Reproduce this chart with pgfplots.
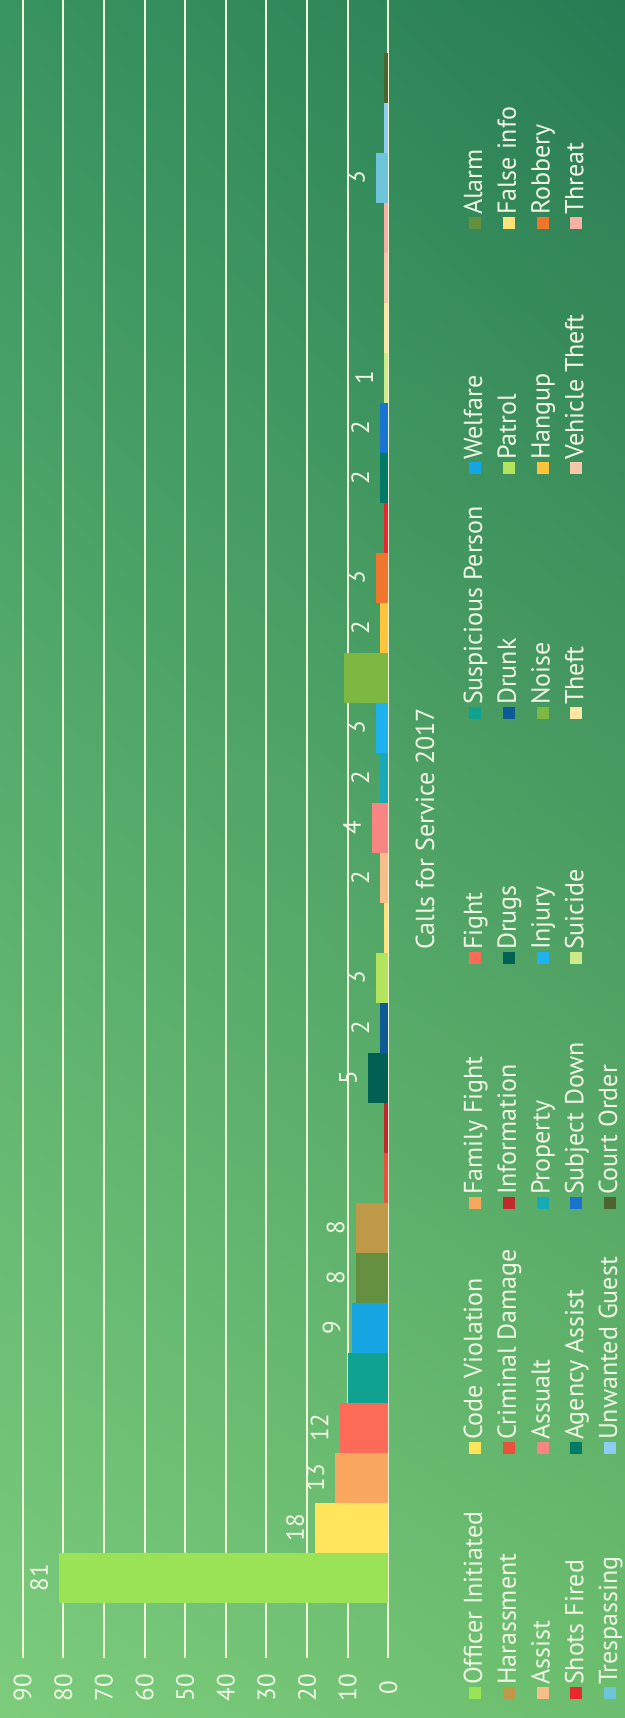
\documentclass[border=0pt]{standalone}
\usepackage{graphicx}
\usepackage{pgfplots}
\pgfplotsset{compat=1.18}
\usetikzlibrary{shadings}
\usepackage{fontspec}
\setmainfont{PT Sans}

\definecolor{bgUL}{RGB}{124,204,124}
\definecolor{bgLL}{RGB}{108,190,110}
\definecolor{bgUR}{RGB}{56,148,96}
\definecolor{bgLR}{RGB}{40,124,84}
\definecolor{gridc}{RGB}{242,246,218}
\definecolor{txtc}{RGB}{240,247,228}

\definecolor{c0}{RGB}{155,227,86}
\definecolor{c1}{RGB}{255,228,92}
\definecolor{c2}{RGB}{249,167,94}
\definecolor{c3}{RGB}{252,107,87}
\definecolor{c4}{RGB}{15,162,145}
\definecolor{c5}{RGB}{22,166,227}
\definecolor{c6}{RGB}{100,144,63}
\definecolor{c7}{RGB}{190,154,72}
\definecolor{c8}{RGB}{233,81,58}
\definecolor{c9}{RGB}{194,40,44}
\definecolor{c10}{RGB}{0,96,84}
\definecolor{c11}{RGB}{13,90,150}
\definecolor{c12}{RGB}{180,227,94}
\definecolor{c13}{RGB}{255,227,122}
\definecolor{c14}{RGB}{248,190,138}
\definecolor{c15}{RGB}{246,133,131}
\definecolor{c16}{RGB}{23,169,181}
\definecolor{c17}{RGB}{30,179,240}
\definecolor{c18}{RGB}{125,184,67}
\definecolor{c19}{RGB}{255,196,60}
\definecolor{c20}{RGB}{240,118,46}
\definecolor{c21}{RGB}{232,40,44}
\definecolor{c22}{RGB}{0,122,102}
\definecolor{c23}{RGB}{24,116,208}
\definecolor{c24}{RGB}{205,235,138}
\definecolor{c25}{RGB}{251,230,162}
\definecolor{c26}{RGB}{248,198,168}
\definecolor{c27}{RGB}{246,176,166}
\definecolor{c28}{RGB}{110,196,216}
\definecolor{c29}{RGB}{141,203,240}
\definecolor{c30}{RGB}{76,101,48}

\pgfplotsset{B/.style={ybar, bar width=1, bar shift=0pt, draw=none}}
\newcommand{\LE}[1]{\makebox[114.5pt][l]{#1}}

\begin{document}
\rotatebox{90}{%
\begin{tikzpicture}
\path[use as bounding box] (0,0) rectangle (859pt,312.5pt);
\shade[upper left=bgUL, upper right=bgUR, lower left=bgLL, lower right=bgLR] (0,0) rectangle (859pt,312.5pt);
\begin{axis}[
  at={(30pt,118.35pt)}, anchor=south west,
  width=829pt, height=182.8pt, scale only axis,
  xmin=-1.6, xmax=31.56, ymin=0, ymax=90,
  axis line style={draw=none},
  ytick={0,10,...,90}, xtick=\empty,
  major tick length=0pt,
  /pgf/number format/assume math mode=true,
  ymajorgrids, grid style={gridc, line width=1pt},
  yticklabel style={font=\fontsize{12.5}{14}\selectfont, text=txtc, anchor=center, xshift=-14.75pt},
  xlabel={Calls for Service 2017},
  xlabel style={font=\fontsize{13}{15}\selectfont, text=txtc, at={(axis description cs:0.5,0)}, anchor=center, yshift=-18.35pt},
  point meta=explicit symbolic,
  nodes near coords={\pgfplotspointmeta},
  every node near coord/.append style={font=\fontsize{12.5}{14}\selectfont, text=txtc, yshift=2pt},
  legend columns=7,
  legend image code/.code={\fill[#1,draw=none] (0pt,-3pt) rectangle (6pt,3pt);},
  legend style={at={(axis description cs:0,0)}, anchor=north west, xshift=-20.5pt, yshift=-36.85pt,
    draw=none, fill=none, inner sep=0pt, outer sep=0pt, column sep=0pt, row sep=3.9pt,
    font=\fontsize{13}{15}\selectfont, text=txtc, cells={anchor=west},
    nodes={inner xsep=1pt, inner ysep=0pt, text height=10pt, text depth=3pt}},
]
\addplot[B, fill=c0]  coordinates {(0,81) [81]};  \addlegendentry{\LE{Officer Initiated}}
\addplot[B, fill=c1]  coordinates {(1,18) [18]};  \addlegendentry{\LE{Code Violation}}
\addplot[B, fill=c2]  coordinates {(2,13) [13]};  \addlegendentry{\LE{Family Fight}}
\addplot[B, fill=c3]  coordinates {(3,12) [12]};  \addlegendentry{\LE{Fight}}
\addplot[B, fill=c4]  coordinates {(4,10) [{}]};  \addlegendentry{\LE{Suspicious Person}}
\addplot[B, fill=c5]  coordinates {(5,9) [9]};    \addlegendentry{\LE{Welfare}}
\addplot[B, fill=c6]  coordinates {(6,8) [8]};    \addlegendentry{\LE{Alarm}}
\addplot[B, fill=c7]  coordinates {(7,8) [8]};    \addlegendentry{\LE{Harassment}}
\addplot[B, fill=c8]  coordinates {(8,1) [{}]};   \addlegendentry{\LE{Criminal Damage}}
\addplot[B, fill=c9]  coordinates {(9,1) [{}]};   \addlegendentry{\LE{Information}}
\addplot[B, fill=c10] coordinates {(10,5) [5]};   \addlegendentry{\LE{Drugs}}
\addplot[B, fill=c11] coordinates {(11,2) [2]};   \addlegendentry{\LE{Drunk}}
\addplot[B, fill=c12] coordinates {(12,3) [3]};   \addlegendentry{\LE{Patrol}}
\addplot[B, fill=c13] coordinates {(13,1) [{}]};  \addlegendentry{\LE{False info}}
\addplot[B, fill=c14] coordinates {(14,2) [2]};   \addlegendentry{\LE{Assist}}
\addplot[B, fill=c15] coordinates {(15,4) [4]};   \addlegendentry{\LE{Assualt}}
\addplot[B, fill=c16] coordinates {(16,2) [2]};   \addlegendentry{\LE{Property}}
\addplot[B, fill=c17] coordinates {(17,3) [3]};   \addlegendentry{\LE{Injury}}
\addplot[B, fill=c18] coordinates {(18,11) [{}]}; \addlegendentry{\LE{Noise}}
\addplot[B, fill=c19] coordinates {(19,2) [2]};   \addlegendentry{\LE{Hangup}}
\addplot[B, fill=c20] coordinates {(20,3) [3]};   \addlegendentry{\LE{Robbery}}
\addplot[B, fill=c21] coordinates {(21,1) [{}]};  \addlegendentry{\LE{Shots Fired}}
\addplot[B, fill=c22] coordinates {(22,2) [2]};   \addlegendentry{\LE{Agency Assist}}
\addplot[B, fill=c23] coordinates {(23,2) [2]};   \addlegendentry{\LE{Subject Down}}
\addplot[B, fill=c24] coordinates {(24,1) [1]};   \addlegendentry{\LE{Suicide}}
\addplot[B, fill=c25] coordinates {(25,1) [{}]};  \addlegendentry{\LE{Theft}}
\addplot[B, fill=c26] coordinates {(26,1) [{}]};  \addlegendentry{\LE{Vehicle Theft}}
\addplot[B, fill=c27] coordinates {(27,1) [{}]};  \addlegendentry{\LE{Threat}}
\addplot[B, fill=c28] coordinates {(28,3) [3]};   \addlegendentry{\LE{Trespassing}}
\addplot[B, fill=c29] coordinates {(29,1) [{}]};  \addlegendentry{\LE{Unwanted Guest}}
\addplot[B, fill=c30] coordinates {(30,1) [{}]};  \addlegendentry{\LE{Court Order}}
\end{axis}
\end{tikzpicture}%
}
\end{document}
